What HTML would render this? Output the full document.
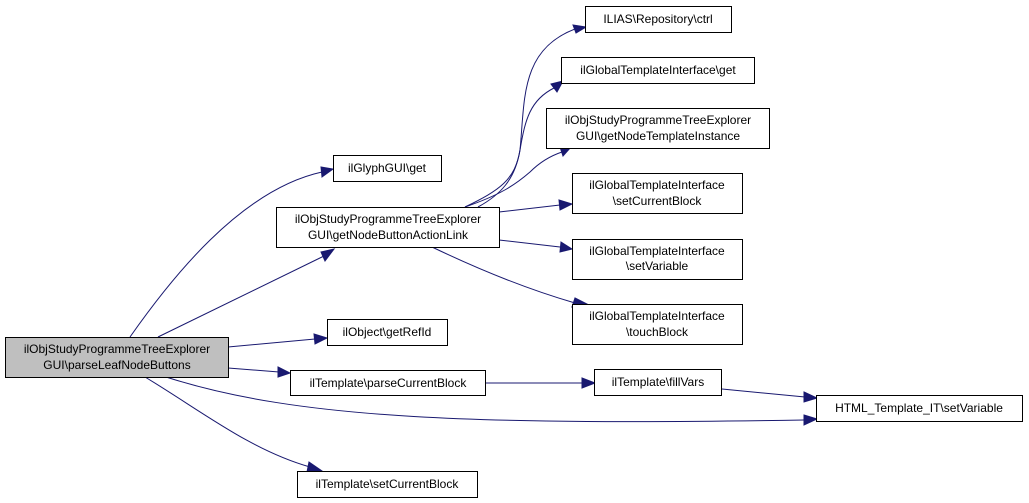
<!DOCTYPE html>
<html><head><meta charset="utf-8"><style>
html,body{margin:0;padding:0;background:#fff;width:1029px;height:503px;overflow:hidden}
svg{display:block}
text{font-family:"Liberation Sans",Arial,sans-serif;font-size:12px;fill:#000}
.n{fill:#fff;stroke:#000;stroke-width:1}
.e{fill:none;stroke:#191970;stroke-width:1}
.a{fill:#191970;stroke:#191970}
</style></head><body>
<svg width="1029" height="503" viewBox="0 0 1029 503" xmlns="http://www.w3.org/2000/svg">
<!-- edges -->
<path class="e" d="M130,337 C170,280 240,190 322,172"/><polygon class="a" points="321,167 333,169 322,177"/>
<path class="e" d="M158,337 L324,256"/><polygon class="a" points="321,252 334,249 325,261"/>
<path class="e" d="M228,347 L315,339"/><polygon class="a" points="314,334 327,338 315,344"/>
<path class="e" d="M228,368 L279,372"/><polygon class="a" points="278,367 290,373 278,377"/>
<path class="e" d="M166,377 C300,420 480,425 804,420"/><polygon class="a" points="804,415 817,419 804,425"/>
<path class="e" d="M145,377 C200,410 250,450 310,467"/><polygon class="a" points="309,462 322,471 307,472"/>
<path class="e" d="M485,383 L583,383"/><polygon class="a" points="582,378 595,383 582,388"/>
<path class="e" d="M722,389 L805,397"/><polygon class="a" points="804,392 817,398 804,402"/>
<path class="e" d="M465,207 C500,190 515,180 520,150 C525,100 520,50 575,29"/><polygon class="a" points="573,25 586,27 576,33"/>
<path class="e" d="M478,207 C500,195 515,180 520,150 C525,120 530,100 554,88"/><polygon class="a" points="551,84 563,81 557,92"/>
<path class="e" d="M465,207 C500,195 515,185 530,172 C540,162 550,156 562,152"/><polygon class="a" points="560,147 571,147 563,156"/>
<path class="e" d="M499,212 L560,205"/><polygon class="a" points="559,200 572,204 560,210"/>
<path class="e" d="M499,240 L560,247"/><polygon class="a" points="561,242 572,249 560,252"/>
<path class="e" d="M432,247 C480,270 530,290 575,303"/><polygon class="a" points="575,298 587,304 572,307"/>
<!-- nodes -->
<rect x="5.5" y="337.5" width="223" height="40" fill="#bfbfbf" stroke="#000"/>
<text x="117" y="353" text-anchor="middle">ilObjStudyProgrammeTreeExplorer</text>
<text x="117" y="369" text-anchor="middle">GUI\parseLeafNodeButtons</text>
<rect class="n" x="333.5" y="155.5" width="108" height="26"/><text x="387" y="172" text-anchor="middle">ilGlyphGUI\get</text>
<rect class="n" x="276.5" y="207.5" width="223" height="40"/>
<text x="388" y="223" text-anchor="middle">ilObjStudyProgrammeTreeExplorer</text>
<text x="388" y="239" text-anchor="middle">GUI\getNodeButtonActionLink</text>
<rect class="n" x="327.5" y="319.5" width="120" height="26"/><text x="387" y="336" text-anchor="middle">ilObject\getRefId</text>
<rect class="n" x="290.5" y="370.5" width="195" height="25"/><text x="388" y="387" text-anchor="middle">ilTemplate\parseCurrentBlock</text>
<rect class="n" x="297.5" y="471.5" width="180" height="26"/><text x="387" y="488" text-anchor="middle">ilTemplate\setCurrentBlock</text>
<rect class="n" x="585.5" y="6.5" width="146" height="26"/><text x="658" y="23" text-anchor="middle">ILIAS\Repository\ctrl</text>
<rect class="n" x="561.5" y="57.5" width="193" height="26"/><text x="658" y="74" text-anchor="middle">ilGlobalTemplateInterface\get</text>
<rect class="n" x="546.5" y="108.5" width="223" height="40"/>
<text x="658" y="124" text-anchor="middle">ilObjStudyProgrammeTreeExplorer</text>
<text x="658" y="140" text-anchor="middle">GUI\getNodeTemplateInstance</text>
<rect class="n" x="572.5" y="173.5" width="170" height="40"/>
<text x="657" y="189" text-anchor="middle">ilGlobalTemplateInterface</text>
<text x="657" y="205" text-anchor="middle">\setCurrentBlock</text>
<rect class="n" x="572.5" y="239.5" width="170" height="40"/>
<text x="657" y="255" text-anchor="middle">ilGlobalTemplateInterface</text>
<text x="657" y="270" text-anchor="middle">\setVariable</text>
<rect class="n" x="572.5" y="304.5" width="170" height="40"/>
<text x="657" y="320" text-anchor="middle">ilGlobalTemplateInterface</text>
<text x="657" y="336" text-anchor="middle">\touchBlock</text>
<rect class="n" x="594.5" y="369.5" width="127" height="26"/><text x="658" y="386" text-anchor="middle">ilTemplate\fillVars</text>
<rect class="n" x="816.5" y="395.5" width="206" height="26"/><text x="919" y="412" text-anchor="middle">HTML_Template_IT\setVariable</text>
</svg>
</body></html>
